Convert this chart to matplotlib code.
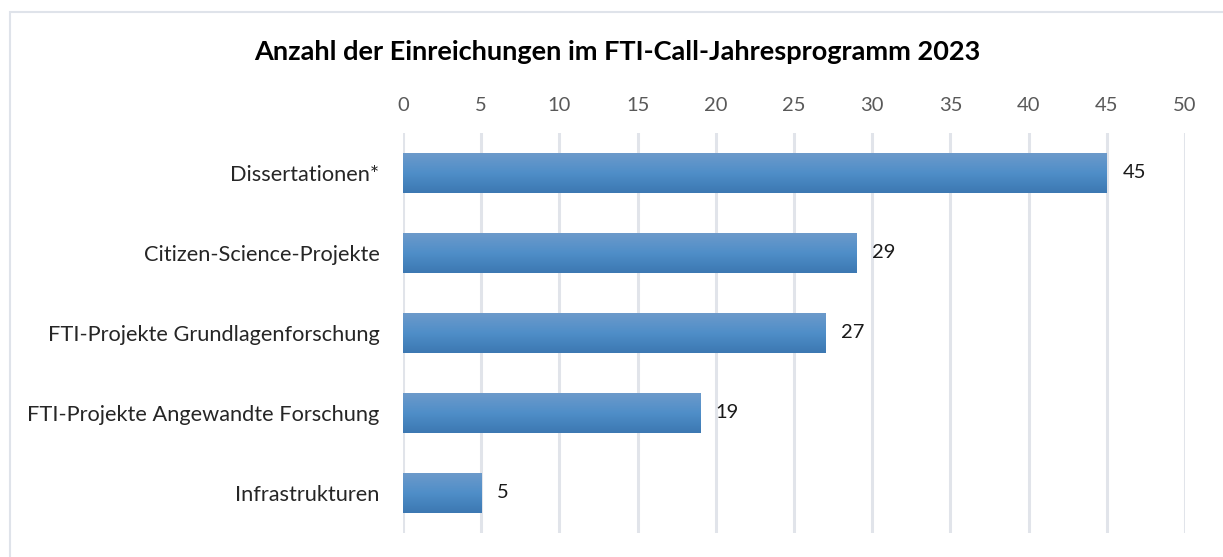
import matplotlib.pyplot as plt
import numpy as np
from matplotlib.colors import LinearSegmentedColormap
from matplotlib.patches import Rectangle

categories = ['Dissertationen*', 'Citizen-Science-Projekte', 'FTI-Projekte Grundlagenforschung',
              'FTI-Projekte Angewandte Forschung', 'Infrastrukturen']
values = [45, 29, 27, 19, 5]
x_ticks = [0, 5, 10, 15, 20, 25, 30, 35, 40, 45, 50]

plt.rcParams['font.family'] = ['Lato', 'DejaVu Sans']

W, H = 1223, 557
fig = plt.figure(figsize=(W / 100, H / 100), dpi=100)
ax = fig.add_axes([403 / W, 1 - 533 / H, (1185 - 403) / W, 400 / H])

# outer chart frame
fig.patches.append(Rectangle((10 / W, -0.1), 1.2, 1 - 11.5 / H + 0.1, transform=fig.transFigure,
                             fill=False, edgecolor='#dfe3ea', linewidth=1.5))

y = np.arange(len(categories))
bars = ax.barh(y, values, height=0.5, color='none')

# vertical gradient fill for each bar
grad = LinearSegmentedColormap.from_list('bar', ['#6c9acb', '#4f8ec8', '#3c78b2'])
g = np.linspace(0, 1, 100).reshape(-1, 1)
for b in bars:
    x0, y0 = b.get_x(), b.get_y()
    ax.imshow(g, cmap=grad, aspect='auto', interpolation='bilinear',
              extent=(x0, x0 + b.get_width(), y0 + b.get_height(), y0), zorder=2)

for yi, v in zip(y, values):
    ax.text(v + 1.0, yi, str(v), va='center', ha='left', fontsize=14.5, color='#1a1a1a')

ax.set_xlim(0, 50)
ax.set_ylim(len(categories) - 0.5, -0.5)
ax.set_xticks(x_ticks)
ax.xaxis.tick_top()
ax.tick_params(axis='x', length=0, labelsize=14.5, labelcolor='#595959', pad=14)
ax.set_yticks(y)
ax.set_yticklabels(categories)
ax.tick_params(axis='y', length=0, labelsize=15.7, labelcolor='#262626', pad=17)
ax.grid(axis='x', color='#e1e4ea', linewidth=2.2, zorder=0)
ax.set_axisbelow(True)
for s in ax.spines.values():
    s.set_visible(False)

fig.text(617 / W, 1 - 52 / H, 'Anzahl der Einreichungen im FTI-Call-Jahresprogramm 2023',
         ha='center', va='center', fontsize=19.5, fontweight='bold', color='#000000')

fig.savefig('out.png', dpi=100)
